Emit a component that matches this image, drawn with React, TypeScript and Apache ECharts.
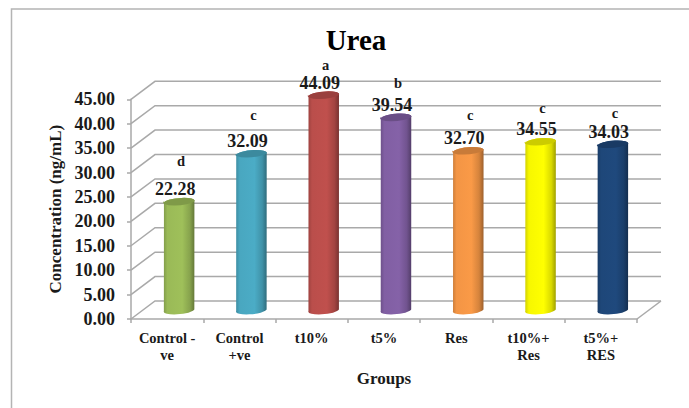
import React, { useEffect, useRef } from "react";
import * as echarts from "echarts";

const categories = ["Control -\nve", "Control\n+ve", "t10%", "t5%", "Res", "t10%+\nRes", "t5%+\nRES"];
const values = [22.28, 32.09, 44.09, 39.54, 32.7, 34.55, 34.03];
const barColors = ["#9FC05A", "#4BACC6", "#C0504D", "#8562A8", "#FA9A47", "#FFFF00", "#1F497D"];
const letters = ["d", "c", "a", "b", "c", "c", "c"];
// Height of each significance letter, read in axis units
const letterLevels = [32.4, 41.8, 52, 48.4, 41.8, 43.2, 42.2];
const yTicks = [0, 5, 10, 15, 20, 25, 30, 35, 40, 45];

const FONT = '"Liberation Serif", "Times New Roman", serif';
const GRID_COLOR = "#A9A9A9";
const DEPTH_X = 24;
const DEPTH_Y = -18;

function shade(hex: string, f: number) {
  const n = parseInt(hex.slice(1), 16);
  const c = [(n >> 16) & 255, (n >> 8) & 255, n & 255].map((v) => Math.round(v * f));
  return `rgb(${c[0]},${c[1]},${c[2]})`;
}

export default function App() {
  const ref = useRef<HTMLDivElement>(null);
  useEffect(() => {
    const chart = echarts.init(ref.current!, null, { renderer: "svg" });
    chart.setOption({
      animation: false,
      backgroundColor: "#FFFFFF",
      title: {
        text: "Urea",
        left: 351,
        top: 20,
        textAlign: "center",
        textStyle: { fontFamily: FONT, fontWeight: "bold", fontSize: 29, color: "#000000" },
      },
      grid: { left: 131, top: 99.3, width: 506, height: 219.7, containLabel: false },
      xAxis: {
        type: "category",
        data: categories,
        name: "Groups",
        nameLocation: "middle",
        nameGap: 51,
        nameTextStyle: { fontFamily: FONT, fontWeight: "bold", fontSize: 17, color: "#1a1a1a" },
        axisLine: { show: true, lineStyle: { color: GRID_COLOR, width: 1.5 } },
        axisTick: { show: true, length: 4, alignWithLabel: false, lineStyle: { color: GRID_COLOR, width: 1.5 } },
        axisLabel: {
          interval: 0,
          margin: 10,
          fontFamily: FONT,
          fontWeight: "bold",
          fontSize: 14.5,
          lineHeight: 17.5,
          color: "#1a1a1a",
        },
      },
      yAxis: {
        type: "value",
        min: 0,
        max: 45,
        interval: 5,
        name: "Concentration (ng/mL)",
        nameLocation: "middle",
        nameGap: 62,
        nameRotate: 90,
        nameTextStyle: { fontFamily: FONT, fontWeight: "bold", fontSize: 17, color: "#1a1a1a" },
        splitLine: { show: false },
        axisLine: { show: true, lineStyle: { color: GRID_COLOR, width: 1.5 } },
        axisTick: { show: true, length: 4, lineStyle: { color: GRID_COLOR, width: 1.5 } },
        axisLabel: {
          margin: 16,
          fontFamily: FONT,
          fontWeight: "bold",
          fontSize: 18,
          color: "#1a1a1a",
          formatter: (v: number) => v.toFixed(2),
        },
      },
      graphic: [
        {
          type: "polyline",
          silent: true,
          z: 0,
          shape: { points: [[11.5, 420], [11.5, 9], [700, 9]] },
          style: { stroke: "#B4B4B4", lineWidth: 1.5, fill: "none" },
        },
      ],
      series: [
        {
          type: "custom",
          name: "frame",
          silent: true,
          z: 1,
          clip: false,
          encode: { x: 0, y: 1 },
          data: yTicks.map((t) => [0, t]),
          renderItem: (params: any, api: any) => {
            const cs = params.coordSys;
            const y = api.coord([0, api.value(1)])[1];
            const left = cs.x;
            const right = cs.x + cs.width;
            const children: any[] = [
              {
                type: "polyline",
                shape: { points: [[left, y], [left + DEPTH_X, y + DEPTH_Y], [right + DEPTH_X, y + DEPTH_Y]] },
                style: { stroke: GRID_COLOR, lineWidth: 1.5, fill: "none" },
              },
            ];
            if (api.value(1) === 0) {
              children.push({
                type: "line",
                shape: { x1: right, y1: y, x2: right + DEPTH_X, y2: y + DEPTH_Y },
                style: { stroke: GRID_COLOR, lineWidth: 1.5 },
              });
            }
            return { type: "group", children };
          },
        },
        {
          type: "custom",
          name: "Urea",
          z: 3,
          clip: false,
          encode: { x: 0, y: 1 },
          data: values.map((v, i) => [i, v]),
          renderItem: (params: any, api: any) => {
            const i = params.dataIndex;
            const color = barColors[i];
            const top = api.coord([i, api.value(1)]);
            const base = api.coord([i, 0]);
            const cx = top[0] + 12;
            const yTop = top[1] - 9;
            const yBot = base[1] - 8;
            const rx = 15.2;
            const ry = 3.8;
            const tilt = 1.4;
            const l = cx - rx;
            const r = cx + rx;
            const body =
              `M${l} ${yTop + tilt} A${rx} ${ry} -5 0 1 ${r} ${yTop - tilt} ` +
              `L${r} ${yBot - tilt} A${rx} ${ry} -5 0 1 ${l} ${yBot + tilt} Z`;
            const cap =
              `M${l} ${yTop + tilt} A${rx} ${ry} -5 0 1 ${r} ${yTop - tilt} ` +
              `A${rx} ${ry} -5 0 1 ${l} ${yTop + tilt} Z`;
            const grad = new echarts.graphic.LinearGradient(0, 0, 1, 0, [
              { offset: 0, color: shade(color, 0.82) },
              { offset: 0.12, color: shade(color, 0.97) },
              { offset: 0.6, color: shade(color, 1) },
              { offset: 0.85, color: shade(color, 0.85) },
              { offset: 1, color: shade(color, 0.62) },
            ]);
            return {
              type: "group",
              children: [
                { type: "path", shape: { pathData: body }, style: { fill: grad } },
                { type: "path", shape: { pathData: cap }, style: { fill: shade(color, 0.8) } },
                {
                  type: "text",
                  style: {
                    x: cx - 4,
                    y: yTop - 12,
                    text: api.value(1).toFixed(2),
                    fill: "#1a1a1a",
                    font: `bold 18px ${FONT}`,
                    textAlign: "center",
                    verticalAlign: "middle",
                  },
                },
                {
                  type: "text",
                  style: {
                    x: cx + 2,
                    y: api.coord([i, letterLevels[i]])[1],
                    text: letters[i],
                    fill: "#1a1a1a",
                    font: `bold 14.5px ${FONT}`,
                    textAlign: "center",
                    verticalAlign: "middle",
                  },
                },
              ],
            };
          },
        },
      ],
    });
    return () => chart.dispose();
  }, []);
  return <div ref={ref} style={{ position: "absolute", left: 0, top: 0, width: 689, height: 408 }} />;
}
